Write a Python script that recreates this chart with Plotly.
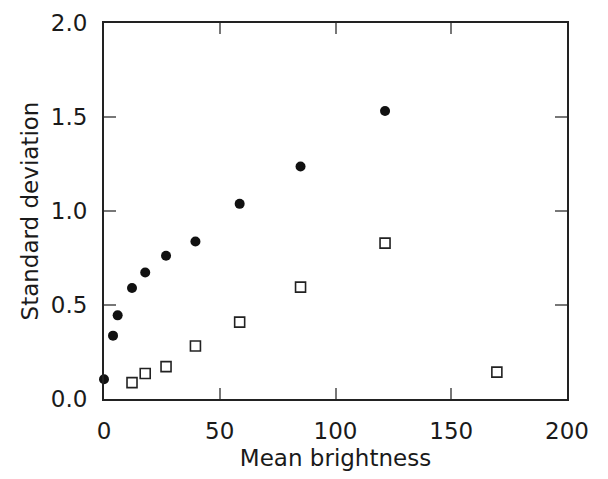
import plotly.graph_objects as go

x_values = [0, 3.9, 5.9, 12.1, 17.8, 26.8, 39.5, 58.6, 84.9, 121.4]
filled_sd = [0.105, 0.337, 0.445, 0.590, 0.673, 0.762, 0.838, 1.038, 1.237, 1.532]

x_open = [12.1, 17.8, 26.8, 39.5, 58.6, 84.9, 121.4, 169.7]
open_sd = [0.087, 0.136, 0.172, 0.282, 0.409, 0.595, 0.829, 0.143]

x_ticks = [0, 50, 100, 150, 200]
y_ticks = [0.0, 0.5, 1.0, 1.5, 2.0]
y_tick_labels = ["0.0", "0.5", "1.0", "1.5", "2.0"]

fig = go.Figure()
fig.add_trace(go.Scatter(x=x_values, y=filled_sd, mode="markers",
                         marker=dict(symbol="circle", size=10, color="#111111"),
                         cliponaxis=False, showlegend=False))
fig.add_trace(go.Scatter(x=x_open, y=open_sd, mode="markers",
                         marker=dict(symbol="square-open", size=10, color="#222222",
                                     line=dict(width=1.6, color="#222222")),
                         cliponaxis=False, showlegend=False))

font = "DejaVu Sans, Liberation Sans, Arial, sans-serif"
fig.update_layout(
    width=608, height=479,
    margin=dict(l=104, r=41, t=23, b=80),
    paper_bgcolor="white", plot_bgcolor="white",
    font=dict(family=font, color="#1a1a1a", size=23),
    xaxis=dict(range=[0, 200], tickvals=x_ticks, ticks="inside", ticklen=11,
               tickwidth=1.5, tickcolor="#777777", showline=True, linecolor="#222222",
               linewidth=2, mirror="ticks", showgrid=False, zeroline=False,
               automargin=False,
               tickfont=dict(size=23), ticklabelstandoff=10,
               title=dict(text="Mean brightness", font=dict(size=23), standoff=7)),
    yaxis=dict(range=[0, 2.0], tickvals=y_ticks, ticktext=y_tick_labels, ticks="inside",
               ticklen=12, tickwidth=1.5, tickcolor="#777777", showline=True,
               linecolor="#222222", linewidth=2, mirror="ticks", showgrid=False,
               zeroline=False, automargin=False,
               tickfont=dict(size=23), ticklabelstandoff=10,
               title=dict(text="Standard deviation", font=dict(size=23), standoff=6)),
)
fig.write_html("out.html", config={"displayModeBar": False},
               post_script="document.body.style.margin='0';document.body.style.overflow='hidden';")
